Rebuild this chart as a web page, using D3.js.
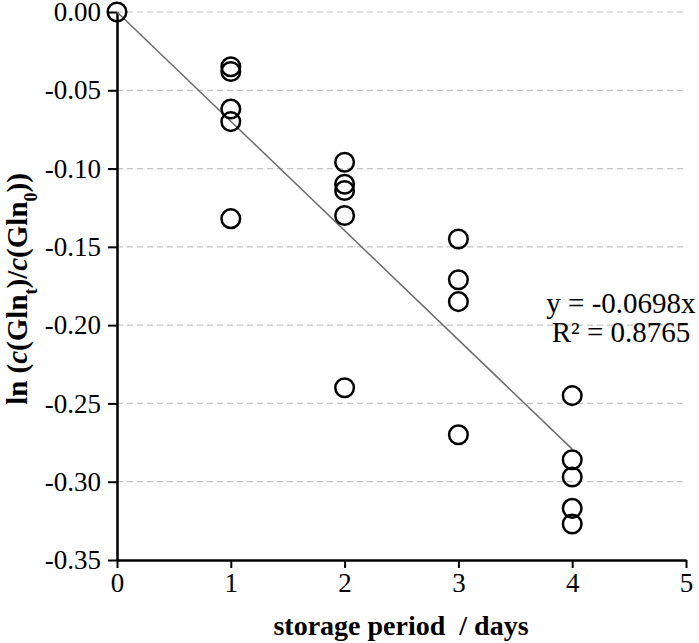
<!DOCTYPE html>
<html>
<head>
<meta charset="utf-8">
<script src="https://cdn.jsdelivr.net/npm/d3@7"></script>
<style>
  body { margin: 0; background: #fff; }
  text { font-family: "Liberation Serif", "Times New Roman", serif; }
</style>
</head>
<body>
<svg id="chart" width="699" height="643"></svg>
<script>
// data
var days = [0, 1, 1, 1, 1, 1, 2, 2, 2, 2, 2, 3, 3, 3, 3, 4, 4, 4, 4, 4];
var lnRatio = [0.000, -0.035, -0.038, -0.062, -0.070, -0.132,
               -0.096, -0.110, -0.114, -0.130, -0.240,
               -0.145, -0.171, -0.185, -0.270,
               -0.245, -0.286, -0.297, -0.317, -0.327];
var xTicks = [0, 1, 2, 3, 4, 5];
var yTicks = [0, -0.05, -0.10, -0.15, -0.20, -0.25, -0.30, -0.35];
var slope = -0.0698;
var fitRange = [0, 4];

var svg = d3.select("#chart");

// plot area
var margin = { top: 12, right: 13, bottom: 83, left: 117 },
    width = 699 - margin.left - margin.right,
    height = 643 - margin.top - margin.bottom;

var g = svg.append("g")
    .attr("transform", "translate(" + margin.left + "," + margin.top + ")");

var x = d3.scaleLinear().domain([0, 5]).range([0, width]);
var y = d3.scaleLinear().domain([-0.35, 0]).range([height, 0]);

// dashed grid lines
g.selectAll(".grid")
    .data(yTicks.filter(function (d) { return d > -0.35; }))
    .enter()
    .append("line")
    .attr("x1", 0)
    .attr("x2", width)
    .attr("y1", function (d) { return y(d); })
    .attr("y2", function (d) { return y(d); })
    .attr("stroke", "#c4c4c4")
    .attr("stroke-width", 1.2)
    .attr("stroke-dasharray", "6,4");

// axes
var xAxis = g.append("g")
    .attr("transform", "translate(0," + height + ")")
    .call(d3.axisBottom(x).tickValues(xTicks).tickSize(8).tickPadding(5).tickSizeOuter(0)
        .tickFormat(d3.format("d")));

var yAxis = g.append("g")
    .call(d3.axisLeft(y).tickValues(yTicks).tickSize(9).tickPadding(7).tickSizeOuter(0)
        .tickFormat(function (d) { return d3.format(".2f")(d).replace("−", "-"); }));

[xAxis, yAxis].forEach(function (a) {
    a.attr("font-family", "'Liberation Serif', serif").attr("font-size", 27);
    a.select(".domain").attr("stroke", "#000").attr("stroke-width", 2.5);
    a.selectAll(".tick line").attr("stroke", "#000").attr("stroke-width", 2);
    a.selectAll(".tick text").attr("fill", "#000");
});

// trend line
g.append("line")
    .attr("x1", x(fitRange[0]))
    .attr("y1", y(slope * fitRange[0]))
    .attr("x2", x(fitRange[1]))
    .attr("y2", y(slope * fitRange[1]))
    .attr("stroke", "#6a6a6a")
    .attr("stroke-width", 1.5);

// points
g.selectAll(".pt")
    .data(days)
    .enter()
    .append("circle")
    .attr("cx", function (d) { return x(d); })
    .attr("cy", function (d, i) { return y(lnRatio[i]); })
    .attr("r", 9.3)
    .attr("fill", "none")
    .attr("stroke", "#000")
    .attr("stroke-width", 2.5);

// equation
var eq = svg.append("text")
    .attr("text-anchor", "middle")
    .style("font-size", "29px")
    .attr("fill", "#000");
eq.append("tspan").attr("x", 621).attr("y", 313).text("y = -0.0698x");
eq.append("tspan").attr("x", 621).attr("y", 342).text("R² = 0.8765");

// x axis title
svg.append("text")
    .attr("x", 401)
    .attr("y", 635)
    .attr("text-anchor", "middle")
    .style("font-size", "28px")
    .style("font-weight", "bold")
    .attr("xml:space", "preserve")
    .text("storage period  / days");

// y axis title
var yt = svg.append("text")
    .attr("transform", "translate(27,289) rotate(-90)")
    .attr("text-anchor", "middle")
    .style("font-size", "29px")
    .style("font-weight", "bold");
yt.append("tspan").text("ln (");
yt.append("tspan").style("font-style", "italic").text("c");
yt.append("tspan").text("(Gln");
yt.append("tspan").attr("baseline-shift", "sub").style("font-size", "18px").text("t");
yt.append("tspan").text(")/");
yt.append("tspan").style("font-style", "italic").text("c");
yt.append("tspan").text("(Gln");
yt.append("tspan").attr("baseline-shift", "sub").style("font-size", "18px").text("0");
yt.append("tspan").text("))");
</script>
</body>
</html>
